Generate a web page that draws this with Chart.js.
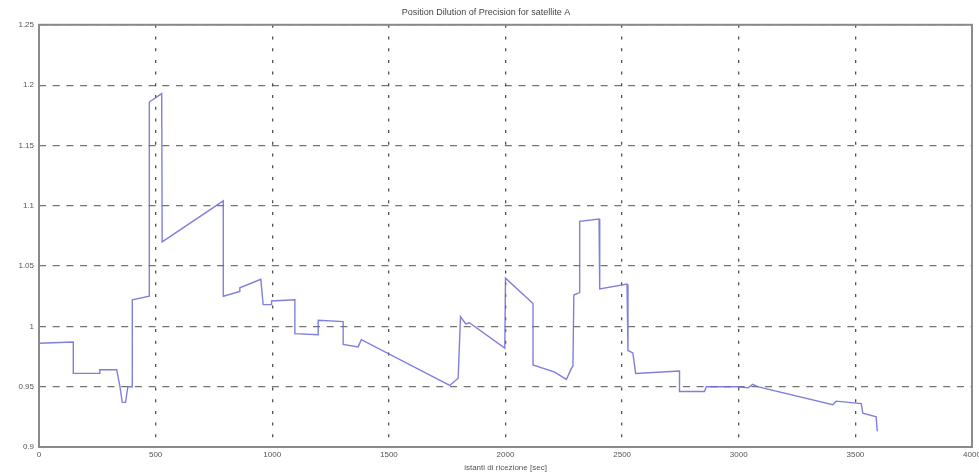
<!DOCTYPE html>
<html>
<head>
<meta charset="utf-8">
<script src="https://cdn.jsdelivr.net/npm/chart.js@4.4.1/dist/chart.umd.min.js"></script>
<style>
  html, body { margin: 0; padding: 0; background: #fff; }
  #wrap { width: 979px; height: 475px; }
</style>
</head>
<body>
<div id="wrap"><canvas id="pdop" width="979" height="475"></canvas></div>
<script>
// time [sec] and PDOP values
const times = [
  0, 147, 147, 261, 261, 333, 347, 357, 371, 381, 400, 400, 473, 473, 526, 528,
  790, 790, 861, 861, 951, 961, 997, 997, 1097, 1097, 1197, 1197, 1304, 1304, 1368, 1382,
  1761, 1797, 1807, 1830, 1845, 1997, 2000, 2118, 2118, 2211, 2261, 2282, 2289, 2293, 2318, 2318,
  2401, 2404, 2521, 2525, 2546, 2558, 2746, 2746, 2853, 2861, 2996, 3040, 3060, 3080,
  3403, 3418, 3525, 3532, 3589, 3594
];
const pdop = [
  0.986, 0.987, 0.961, 0.961, 0.964, 0.964, 0.950, 0.937, 0.937, 0.950, 0.950, 1.022, 1.025, 1.186, 1.193, 1.070,
  1.104, 1.025, 1.029, 1.032, 1.039, 1.018, 1.018, 1.021, 1.022, 0.994, 0.993, 1.005, 1.004, 0.985, 0.983, 0.989,
  0.951, 0.957, 1.008, 1.002, 1.003, 0.982, 1.040, 1.019, 0.968, 0.962, 0.956, 0.965, 0.967, 1.026, 1.028, 1.087,
  1.089, 1.031, 1.035, 0.980, 0.978, 0.961, 0.963, 0.946, 0.946, 0.950, 0.950, 0.949, 0.952, 0.950,
  0.935, 0.938, 0.936, 0.928, 0.925, 0.913
];

const xTicks = [0, 500, 1000, 1500, 2000, 2500, 3000, 3500, 4000];
const yTicks = [0.9, 0.95, 1, 1.05, 1.1, 1.15, 1.2, 1.25];

// matlab style box round the axes
const frame = {
  id: 'frame',
  afterDraw(chart) {
    const a = chart.chartArea, c = chart.ctx;
    c.save();
    c.strokeStyle = '#8a8a8a';
    c.lineWidth = 2;
    c.strokeRect(a.left, a.top, a.right - a.left, a.bottom - a.top);
    c.restore();
  }
};

const ctx = document.getElementById('pdop').getContext('2d');
new Chart(ctx, {
  type: 'scatter',
  data: {
    datasets: [{
      data: times.map((t, i) => ({ x: t, y: pdop[i] })),
      showLine: true,
      borderColor: 'rgba(105,105,215,0.85)',
      borderWidth: 1.4,
      pointRadius: 0,
      tension: 0
    }]
  },
  options: {
    responsive: false,
    animation: false,
    layout: { padding: { left: 0, right: 7, top: 0, bottom: 0 } },
    plugins: {
      legend: { display: false },
      tooltip: { enabled: false },
      title: {
        display: true,
        text: 'Position Dilution of Precision for satellite A',
        color: '#444',
        font: { family: 'Liberation Sans', size: 9, weight: 'normal' },
        padding: { top: 7, bottom: 7 }
      }
    },
    scales: {
      x: {
        type: 'linear',
        min: 0, max: 4000,
        afterBuildTicks: s => { s.ticks = xTicks.map(v => ({ value: v })); },
        afterFit: s => { s.height = 28; s.paddingLeft = 0; s.paddingRight = 0; },
        ticks: {
          color: '#555',
          font: { family: 'Liberation Sans', size: 8 },
          padding: 3,
          maxRotation: 0,
          autoSkip: false,
          callback: v => String(v)
        },
        grid: { color: 'rgba(50,50,50,0.85)', lineWidth: 1.3, drawTicks: false },
        border: { display: false, dash: [3, 8.7] },
        title: {
          display: true,
          text: 'istanti di ricezione [sec]',
          color: '#555',
          font: { family: 'Liberation Sans', size: 8 },
          padding: { top: 0, bottom: 2 }
        }
      },
      y: {
        type: 'linear',
        min: 0.9, max: 1.25,
        afterBuildTicks: s => { s.ticks = yTicks.map(v => ({ value: v })); },
        afterFit: s => { s.width = 39; },
        ticks: {
          color: '#555',
          font: { family: 'Liberation Sans', size: 8 },
          padding: 5,
          callback: v => String(Number(v.toFixed(2)))
        },
        grid: { color: 'rgba(70,70,70,0.75)', lineWidth: 1.2, drawTicks: false },
        border: { display: false, dash: [7, 6.7] }
      }
    }
  },
  plugins: [frame]
});
</script>
</body>
</html>
